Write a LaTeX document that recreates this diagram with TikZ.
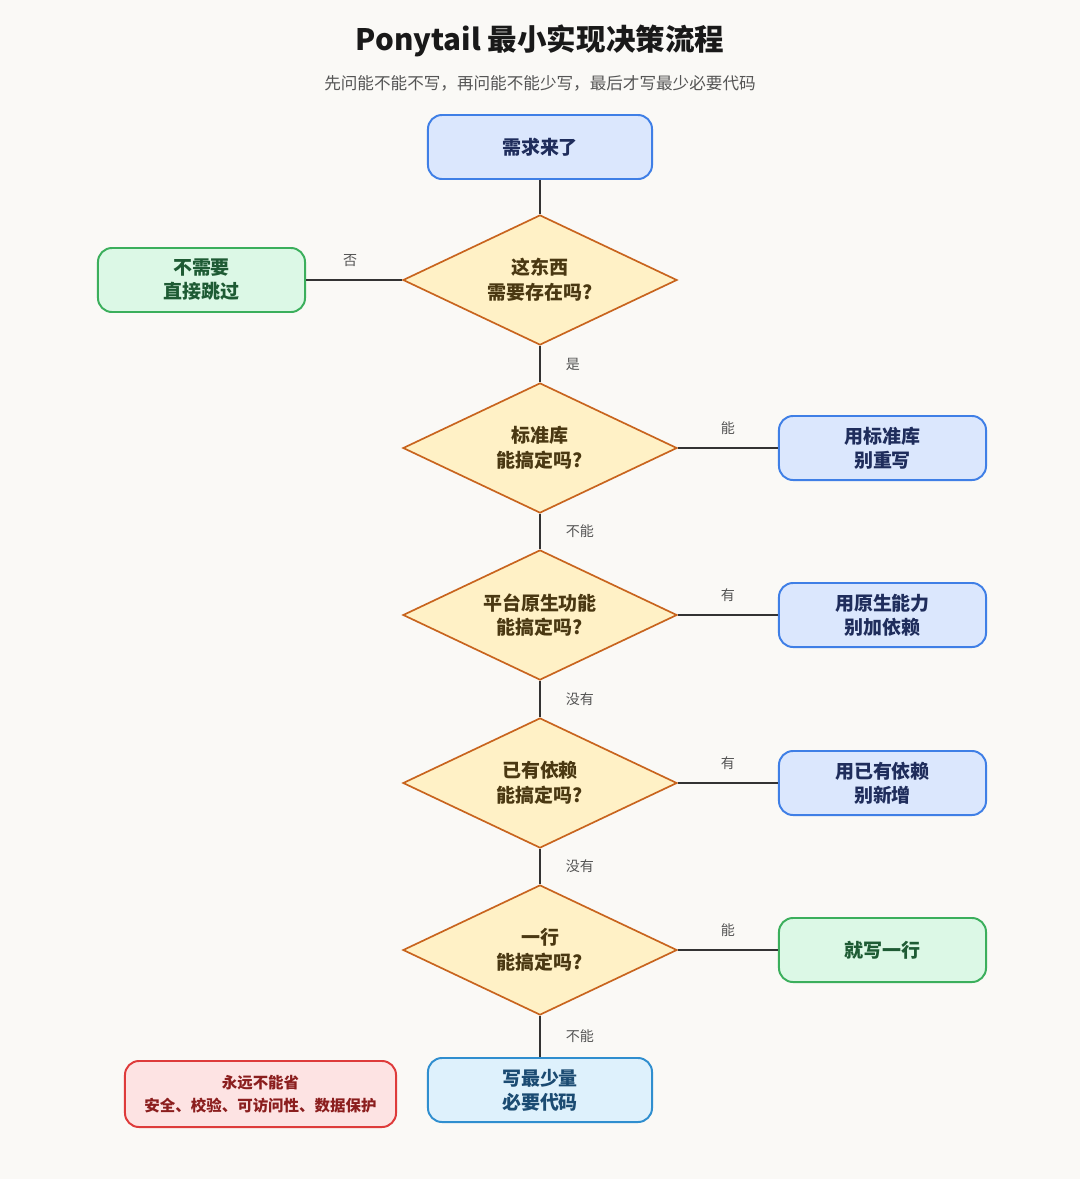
\documentclass[tikz,border=0pt]{standalone}
\usepackage{fontspec}
\setmainfont{Noto Sans CJK SC}
\usetikzlibrary{shapes.geometric}
\definecolor{pagebg}{HTML}{FAF9F6}
\definecolor{wirecol}{HTML}{333333}
\definecolor{bluefill}{HTML}{DBE7FD}
\definecolor{blueedge}{HTML}{3F7FE6}
\definecolor{bluetext}{HTML}{1F2D5C}
\definecolor{greenfill}{HTML}{DCF8E6}
\definecolor{greenedge}{HTML}{3BAF5C}
\definecolor{greentext}{HTML}{1E5B34}
\definecolor{askfill}{HTML}{FFF1C6}
\definecolor{askedge}{HTML}{C8641E}
\definecolor{asktext}{HTML}{4A3812}
\definecolor{codefill}{HTML}{DEF1FC}
\definecolor{codeedge}{HTML}{2F8ECF}
\definecolor{codetext}{HTML}{1B4B72}
\definecolor{warnfill}{HTML}{FDE3E3}
\definecolor{warnedge}{HTML}{DE3B3B}
\definecolor{warntext}{HTML}{8B1E1E}
\definecolor{greytext}{HTML}{555555}

\tikzset{
  card/.style={draw,rounded corners=0.35cm,line width=1.4pt,align=center,
    font=\fontsize{13.5}{17}\selectfont\bfseries,inner sep=0pt},
  startbox/.style={card,fill=bluefill,draw=blueedge,text=bluetext,minimum width=5.6cm,minimum height=1.6cm},
  usebox/.style={card,fill=bluefill,draw=blueedge,text=bluetext,minimum width=5.175cm,minimum height=1.6cm},
  skipbox/.style={card,fill=greenfill,draw=greenedge,text=greentext,minimum width=5.175cm,minimum height=1.6cm},
  writebox/.style={card,fill=codefill,draw=codeedge,text=codetext,minimum width=5.6cm,minimum height=1.6cm},
  warnbox/.style={card,fill=warnfill,draw=warnedge,text=warntext,minimum width=6.775cm,minimum height=1.65cm,
    font=\fontsize{11}{16}\selectfont\bfseries},
  choice/.style={diamond,draw=askedge,fill=askfill,text=asktext,line width=1.2pt,align=center,
    inner sep=0pt,aspect=2.1,minimum width=6.85cm,minimum height=3.25cm,
    font=\fontsize{13.5}{17.5}\selectfont\bfseries},
  wire/.style={draw=wirecol,line width=1.7pt},
  lbl/.style={font=\fontsize{10}{12}\selectfont,text=greytext}
}

\begin{document}
\begin{tikzpicture}[x=0.025cm,y=-0.025cm]
  \fill[pagebg] (0,0) rectangle (1080,1179);
  \useasboundingbox (0,0) rectangle (1080,1179);

  \node[font=\fontsize{21}{24}\selectfont\bfseries,text=black!90] (title) at (540,41) {Ponytail 最小实现决策流程};
  \node[font=\fontsize{11.8}{15}\selectfont,text=greytext] (subtitle) at (540,83) {先问能不能不写，再问能不能少写，最后才写最少必要代码};

  % main column
  \node[startbox] (need) at (540,147) {需求来了};
  \node[choice] (exist) at (540,280) {这东西\\需要存在吗?};
  \node[choice] (stdlib) at (540,448) {标准库\\能搞定吗?};
  \node[choice] (native) at (540,615) {平台原生功能\\能搞定吗?};
  \node[choice] (deps) at (540,783) {已有依赖\\能搞定吗?};
  \node[choice] (oneline) at (540,950) {一行\\能搞定吗?};
  \node[writebox] (write) at (540,1090) {写最少量\\必要代码};

  % side boxes
  \node[skipbox] (skip) at (201.5,280) {不需要\\直接跳过};
  \node[usebox] (usestd) at (882.5,448) {用标准库\\别重写};
  \node[usebox] (usenative) at (882.5,615) {用原生能力\\别加依赖};
  \node[usebox] (usedeps) at (882.5,783) {用已有依赖\\别新增};
  \node[skipbox] (writeone) at (882.5,950) {就写一行};
  \node[warnbox] (never) at (260.5,1094) {永远不能省\\安全、校验、可访问性、数据保护};

  % connectors
  \draw[wire] (need) -- (exist);
  \draw[wire] (exist.west) -- node[lbl,above=0.18cm,xshift=-0.1cm] {否} (skip.east);
  \draw[wire] (exist.south) -- node[lbl,right=0.5cm] {是} (stdlib.north);
  \draw[wire] (stdlib.east) -- node[lbl,above=0.2cm] {能} (usestd.west);
  \draw[wire] (stdlib.south) -- node[lbl,right=0.5cm] {不能} (native.north);
  \draw[wire] (native.east) -- node[lbl,above=0.2cm] {有} (usenative.west);
  \draw[wire] (native.south) -- node[lbl,right=0.5cm] {没有} (deps.north);
  \draw[wire] (deps.east) -- node[lbl,above=0.2cm] {有} (usedeps.west);
  \draw[wire] (deps.south) -- node[lbl,right=0.5cm] {没有} (oneline.north);
  \draw[wire] (oneline.east) -- node[lbl,above=0.2cm] {能} (writeone.west);
  \draw[wire] (oneline.south) -- node[lbl,right=0.5cm] {不能} (write.north);
\end{tikzpicture}
\end{document}
